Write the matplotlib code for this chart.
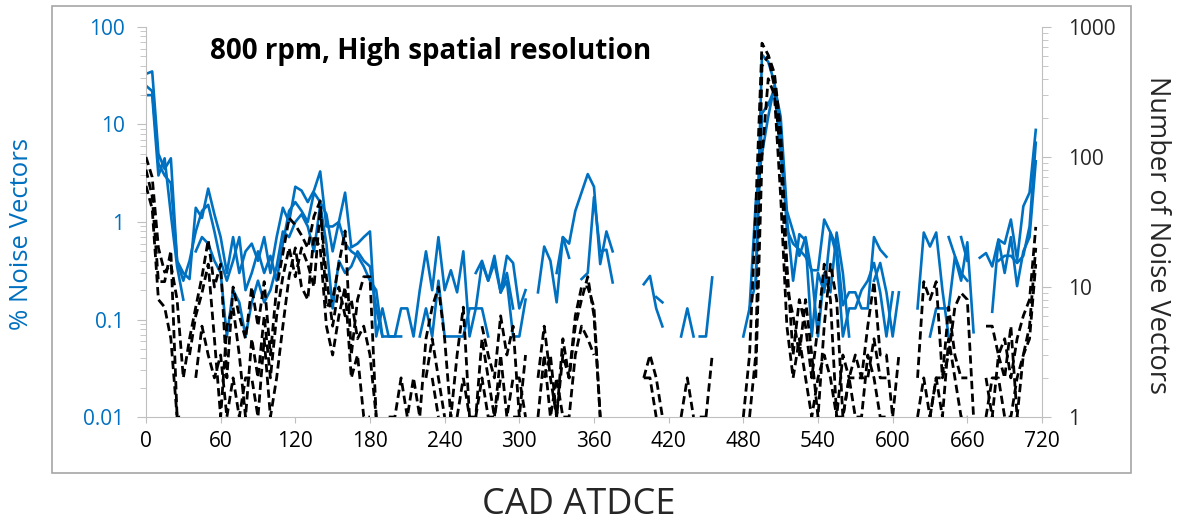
import numpy as np
import matplotlib
matplotlib.use("Agg")
import matplotlib.pyplot as plt
from matplotlib.ticker import LogLocator, FuncFormatter, NullFormatter
from matplotlib.patches import Rectangle

plt.rcParams['font.family'] = ['Open Sans', 'DejaVu Sans']

nan = np.nan
cad = np.arange(0, 721, 5)

# % noise vectors (left axis), one value per 5 deg CAD
blue1 = [33, 35, 5.0, 3.5, 4.5, 0.4, 0.3, 0.26, 1.4, 1.1, 2.2, 1.2,
         0.7, 0.3, 0.7, 0.3, 0.5, 0.6, 0.4, 0.7, 0.3, 0.7, 1.4, 1.0,
         2.3, 2.1, 1.6, 2.1, 3.3, 0.9, 0.9, 1.0, 2.0, 0.55, 0.6, 0.7,
         0.8, 0.067, 0.13, 0.067, 0.067, 0.13, 0.13, 0.067, 0.2, 0.5, 0.2, 0.7,
         0.2, 0.32, 0.19, 0.5, 0.067, 0.13, 0.38, 0.25, 0.38, 0.19, 0.45, 0.38,
         0.13, 0.2, nan, 0.19, 0.56, 0.4, 0.15, 0.7, 0.6, 1.3, 2.0, 3.1,
         2.3, 0.37, 0.8, 0.5, nan, nan, nan, nan, 0.23, 0.28, 0.13, 0.085,
         nan, nan, 0.067, 0.13, 0.067, nan, nan, nan, nan, nan, nan, nan,
         0.067, 0.13, 0.24, 52, 44, 27, 9.6, 0.83, 0.6, 0.52, 0.44, 0.32,
         0.32, 1.06, 0.78, 0.56, 0.14, 0.19, 0.19, 0.13, 0.13, 0.7, 0.52, 0.44,
         nan, nan, nan, nan, 0.13, 0.78, 0.56, 0.78, 0.2, 0.067, nan, 0.7,
         0.4, nan, 0.43, 0.48, 0.35, 0.66, 0.6, 1.06, 0.41, 1.45, 2.0, 8.8,
         nan]
blue2 = [25, 22, 4.0, 3.0, 2.5, 0.4, 0.25, 0.4, 0.8, 1.3, 1.5, 0.8,
         0.4, 0.25, 0.4, 0.7, 0.2, 0.3, 0.5, 0.3, 0.45, 0.25, 0.6, 1.3,
         1.6, 1.3, 1.0, 2.0, 1.6, 1.2, 0.5, 1.0, 0.6, 0.5, 0.45, 0.35,
         0.25, 0.2, 0.067, 0.067, 0.067, 0.067, nan, nan, 0.067, 0.13, 0.067, 0.25,
         0.067, 0.067, 0.067, 0.067, 0.13, 0.13, 0.13, 0.067, nan, 0.19, 0.25, 0.067,
         0.067, 0.16, nan, nan, nan, nan, nan, nan, nan, nan, 0.26, 0.3,
         1.8, 0.5, 0.52, 0.24, nan, nan, nan, nan, nan, nan, 0.17, 0.15,
         nan, nan, nan, nan, nan, 0.067, 0.067, 0.27, nan, nan, nan, nan,
         nan, nan, 0.24, 13, 16, 23, 5.0, 1.1, 0.25, 0.75, 0.65, 0.067,
         0.3, 0.19, 0.78, 0.45, 0.067, 0.13, 0.13, 0.2, 0.25, 0.38, 0.19, 0.067,
         0.19, nan, nan, nan, nan, nan, 0.067, 0.13, 0.13, 0.13, 0.44, 0.25,
         0.62, 0.074, nan, nan, 0.12, 0.66, 0.3, 0.7, 0.22, 0.5, 0.7, 4.2,
         nan]
blue3 = [20, 20, 3.0, 4.5, 1.2, 0.35, 0.16, nan, 0.5, 0.7, 0.6, 0.4,
         0.3, 0.067, 0.2, 0.15, 0.067, 0.15, 0.25, 0.15, 0.2, 0.35, 0.8, 0.7,
         1.0, 1.2, 0.9, 0.5, 1.5, 0.6, 0.13, 0.4, 0.3, 0.35, 0.5, 0.4,
         0.35, 0.13, 0.067, nan, nan, nan, nan, nan, nan, nan, nan, nan,
         nan, nan, nan, nan, nan, 0.3, 0.4, 0.25, 0.45, 0.19, 0.3, 0.13,
         nan, nan, nan, nan, nan, nan, 0.3, 0.7, 0.43, nan, nan, nan,
         nan, nan, nan, nan, nan, nan, nan, nan, nan, nan, nan, nan,
         nan, nan, nan, nan, nan, nan, nan, nan, nan, nan, nan, nan,
         nan, 0.13, 1.6, 5.0, 12, 25, 12, 1.3, 0.8, 0.45, 0.7, 0.3,
         0.067, 0.3, 0.19, 0.78, 0.3, 0.067, nan, nan, nan, 0.25, 0.38, 0.19,
         0.067, 0.19, nan, nan, nan, nan, nan, nan, nan, 0.7, 0.45, 0.3,
         0.25, nan, nan, nan, nan, 0.4, 0.45, 0.45, 0.38, 0.45, 0.9, 6.5,
         nan]

# number of noise vectors (right axis)
black1 = [100, 70, 20, 13, 15, 8, 2, 4, 7, 12, 23, 10,
          15, 2, 10, 6, 4, 10, 5, 11, 3, 10, 18, 34,
          30, 25, 20, 35, 46, 7, 8, 15, 27, 3, 8, 12,
          12, 1, nan, 1, 1, 2, 1, 2, 1, 4, 7, 10,
          4, 1, 3, 7, 1, nan, 5, 3, 2, 6, 3, 5,
          1, 3, nan, 2, 5, 2, 1, 4, 2, 6, 10, 10,
          7, 1, nan, nan, nan, nan, nan, nan, 2, 3, 2, 1,
          nan, nan, 1, 2, 1, nan, 1, 3, nan, nan, nan, nan,
          1, 3, 40, 750, 610, 440, 160, 15, 3, 8, 5, 2,
          5, 15, 8, 1, 3, 2, 2, 2, 5, 11, 3, 3,
          1, 3, nan, nan, 2, 11, 8, 11, 2, 3, 7, 9,
          8, 1, nan, 5, 5, 3, 4, 2, 4, 6, 8, 29,
          nan]
black2 = [80, 50, 11, 11, 19, 1, nan, 3, 6, 9, 15, 4,
          1, 5, 7, 3, 1, 4, 2, 6, 2, 6, 12, 20,
          12, 20, 15, 10, 40, 12, 5, 10, 6, 8, 4, 5,
          3, 1, nan, nan, nan, nan, nan, nan, nan, 2, 4, 2,
          1, nan, nan, 2, 1, 1, 4, 2, 1, 3, 1, 2,
          2, 1, nan, nan, 2, 3, 1, 3, 2, 5, 8, 12,
          6, 1, nan, nan, nan, nan, nan, nan, 2, 2, 1, nan,
          nan, nan, nan, nan, nan, 1, 1, nan, nan, nan, nan, nan,
          nan, 1, 3, 500, 600, 345, 100, 10, 6, 3, 8, 3,
          1, 5, 15, 8, 1, 2, 3, 2, 2, 4, 2, 2,
          nan, nan, nan, nan, 1, 2, 1, 2, 2, 7, 3, 2,
          2, nan, nan, 2, 1, 3, 2, 5, 1, 3, 5, 20,
          nan]
black3 = [60, 40, 8, 7, 4, 1, 1, nan, 2, 5, 3, 2,
          3, 1, 2, 1, 2, 2, 1, 4, 1, 2, 5, 12,
          20, 10, 8, 25, 20, 5, 3, 6, 10, 2, 3, 1,
          1, nan, nan, nan, nan, nan, nan, nan, nan, nan, 2, 1,
          nan, nan, 1, 2, nan, 1, 2, 1, 1, 2, nan, 1,
          1, nan, nan, 1, 3, 1, 2, 1, 1, 3, 5, 4,
          3, nan, nan, nan, nan, nan, nan, nan, nan, nan, nan, nan,
          nan, nan, nan, nan, nan, nan, nan, nan, nan, nan, nan, nan,
          nan, nan, 2, 100, 400, 300, 50, 5, 2, 4, 2, 1,
          2, 3, 2, 1, 1, 2, 1, 1, 3, 2, 1, 1,
          nan, nan, nan, nan, nan, nan, 1, 2, 1, 4, 2, 1,
          1, nan, nan, 1, 2, 2, 1, 1, 2, 3, 4, 15,
          nan]

xticks = list(range(0, 721, 60))
blue = '#0070C0'
grey = '#BFBFBF'

fig = plt.figure(figsize=(11.81, 5.27), dpi=100)
fig.patches.append(Rectangle((52 / 1181, 1 - 473 / 527), 1079 / 1181, 467 / 527,
                             transform=fig.transFigure, fill=False,
                             edgecolor='#A6A6A6', lw=1.2))

ax = fig.add_axes([0.1236, 0.2087, 0.7587, 0.7401])
ax2 = ax.twinx()

for s in (blue1, blue2, blue3):
    ax.plot(cad, np.array(s, dtype=float), color=blue, lw=1.9)
for s in (black1, black2, black3):
    ax2.plot(cad, np.array(s, dtype=float), color='black', lw=2.0,
             dashes=(3.0, 1.6))

fmt = FuncFormatter(lambda v, p: f"{v:g}")
ax.set_xlim(0, 720)
ax.set_xticks(xticks)
ax.set_yscale('log')
ax.set_ylim(0.01, 100)
ax2.set_yscale('log')
ax2.set_ylim(1, 1000)
for a in (ax, ax2):
    a.yaxis.set_major_locator(LogLocator(base=10))
    a.yaxis.set_minor_locator(LogLocator(base=10, subs=np.arange(2, 10)))
    a.yaxis.set_major_formatter(fmt)
    a.yaxis.set_minor_formatter(NullFormatter())
    a.spines['top'].set_visible(False)
    for sp in a.spines.values():
        sp.set_color(grey)
ax2.spines['left'].set_visible(False)
ax2.spines['bottom'].set_visible(False)
ax.spines['right'].set_visible(False)

ax.tick_params(axis='x', which='major', direction='out', length=4, color=grey,
               labelsize=15, labelcolor='black', pad=6)
ax.tick_params(axis='y', which='major', direction='out', length=6.5, color=grey,
               labelsize=15, labelcolor=blue, pad=9)
ax.tick_params(axis='y', which='minor', direction='out', length=4.3, color=grey)
ax2.tick_params(axis='y', which='major', direction='out', length=6.5, color=grey,
                labelsize=15, labelcolor='#262626', pad=12)
ax2.tick_params(axis='y', which='minor', direction='out', length=4.3, color=grey)

ax.text(0.071, 0.936, '800 rpm, High spatial resolution', transform=ax.transAxes,
        fontsize=20, fontweight='bold', ha='left', va='center')

fig.text(22 / 1181, 1 - 234 / 527, '% Noise Vectors', color=blue, fontsize=18.5,
         rotation=90, ha='center', va='center')
fig.text(1157 / 1181, 1 - 235 / 527, 'Number of Noise Vectors', color='#262626',
         fontsize=19.5, rotation=-90, ha='center', va='center')
fig.text(579 / 1181, 1 - 505 / 527, 'CAD ATDCE', color='#262626', fontsize=26,
         ha='center', va='center')

fig.savefig('out.png', dpi=100)
